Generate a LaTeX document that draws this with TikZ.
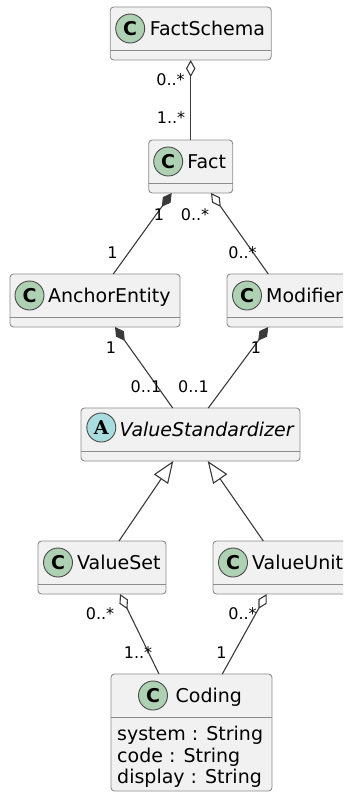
\documentclass[tikz,border=0pt]{standalone}
\usepackage{fontspec}
\setmainfont{DejaVu Sans}
\newfontfamily\serifA{DejaVu Serif}
\usetikzlibrary{arrows.meta,calc}
\definecolor{boxfill}{HTML}{F1F1F1}
\definecolor{boxline}{HTML}{8C8C8C}
\definecolor{badgeline}{HTML}{4A4A4A}
\definecolor{cfill}{HTML}{ADD1B2}
\definecolor{afill}{HTML}{A9DCDF}
\definecolor{edge}{HTML}{3A3A3A}
\tikzset{
 cls/.style={draw=boxline, fill=boxfill, rounded corners=3.5pt, line width=0.9pt, inner sep=0pt, outer sep=0pt, anchor=north west, minimum height=53pt},
 sepline/.style={draw=boxline, line width=0.9pt},
 badge/.style={circle, draw=badgeline, line width=0.9pt, minimum size=29pt, inner sep=0pt, font=\fontsize{19}{19}\selectfont\bfseries},
 cbadge/.style={badge, fill=cfill},
 abadge/.style={badge, fill=afill, font=\fontsize{19}{19}\selectfont\serifA\bfseries},
 ttl/.style={inner sep=0pt, anchor=base west, font=\fontsize{19}{22}\selectfont},
 attr/.style={inner sep=0pt, anchor=base west, font=\fontsize{19}{22}\selectfont},
 lbl/.style={inner sep=0pt, font=\fontsize{16}{16}\selectfont},
 conn/.style={draw=edge, line width=1.1pt},
 compo/.style={conn, {Diamond[length=17pt,width=9.5pt,fill=edge]}-},
 aggr/.style={conn, {Diamond[length=17pt,width=9.5pt,fill=white]}-},
 inh/.style={conn, -{Triangle[length=22pt,width=17pt,fill=white]}},
}
\begin{document}
\begin{tikzpicture}[x=1pt,y=-1pt]
\useasboundingbox (0,0) rectangle (343,792);
\begin{scope}
\clip (0,0) rectangle (343,792);
% boxes
\node[cls, minimum width=161pt] (fs) at (110.2,7) {};
\node[cls, minimum width=84pt] (fact) at (148.7,140) {};
\node[cls, minimum width=170pt] (ae) at (10,274) {};
\node[cls, minimum width=124pt] (mod) at (227,274) {};
\node[cls, minimum width=219pt] (vs) at (81,408) {};
\node[cls, minimum width=128pt] (vset) at (38,541) {};
\node[cls, minimum width=138pt] (vunit) at (213,541) {};
\node[cls, minimum width=161pt, minimum height=117pt] (coding) at (111,674) {};
% separators
\foreach \b in {fs,fact,ae,mod,vs,vset,vunit,coding}{
  \draw[sepline] ($(\b.north west)+(0,43)$) -- ($(\b.north east)+(0,43)$);
}
% badges and titles
\node[cbadge] (fsC) at ($(fs.north west)+(20,21.5)$) {C};
\node[ttl] (fsT) at ($(fs.north west)+(39.5,28.5)$) {FactSchema};
\node[cbadge] (factC) at ($(fact.north west)+(19.5,21.5)$) {C};
\node[ttl] (factT) at ($(fact.north west)+(38.5,28.5)$) {Fact};
\node[cbadge] (aeC) at ($(ae.north west)+(19.5,21.5)$) {C};
\node[ttl] (aeT) at ($(ae.north west)+(38,28.5)$) {AnchorEntity};
\node[cbadge] (modC) at ($(mod.north west)+(20,21.5)$) {C};
\node[ttl] (modT) at ($(mod.north west)+(39,28.5)$) {Modifier};
\node[abadge] (vsA) at ($(vs.north west)+(20.3,19.5)$) {A};
\node[ttl, font=\fontsize{19}{22}\selectfont\itshape] (vsT) at ($(vs.north west)+(38.5,28.5)$) {ValueStandardizer};
\node[cbadge] (vsetC) at ($(vset.north west)+(20,21.5)$) {C};
\node[ttl] (vsetT) at ($(vset.north west)+(39,28.5)$) {ValueSet};
\node[cbadge] (vunitC) at ($(vunit.north west)+(20,21.5)$) {C};
\node[ttl] (vunitT) at ($(vunit.north west)+(39,28.5)$) {ValueUnit};
\node[cbadge] (codingC) at ($(coding.north west)+(42,21.5)$) {C};
\node[ttl] (codingT) at ($(coding.north west)+(64.5,28.5)$) {Coding};
\node[attr] (a1) at ($(coding.north west)+(6,66)$) {system : String};
\node[attr] (a2) at ($(coding.north west)+(6,88)$) {code : String};
\node[attr] (a3) at ($(coding.north west)+(6,109.5)$) {display : String};
% connectors
\draw[aggr] (fs.south) -- (fact.north);
\draw[compo] ($(fact.south west)+(23,0)$) -- ($(ae.north west)+(103.3,0)$);
\draw[aggr] ($(fact.south west)+(62.3,0)$) -- ($(mod.north west)+(41.3,0)$);
\draw[compo] ($(ae.south west)+(105,0)$) -- ($(vs.north west)+(91.7,0)$);
\draw[compo] ($(mod.south west)+(41.3,0)$) -- ($(vs.north west)+(127.3,0)$);
\draw[inh] ($(vset.north west)+(81,0)$) -- ($(vs.south west)+(92.3,0)$);
\draw[inh] ($(vunit.north west)+(50.3,0)$) -- ($(vs.south west)+(126.7,0)$);
\draw[aggr] ($(vset.south west)+(82,0)$) -- ($(coding.north west)+(48,0)$);
\draw[aggr] ($(vunit.south west)+(53.7,0)$) -- ($(coding.north west)+(111.3,0)$);
% multiplicity labels
\node[lbl] (l1) at (170.5,80) {0..*};
\node[lbl] (l2) at (171,118) {1..*};
\node[lbl] (l3) at (159,215) {1};
\node[lbl] (l4) at (195,215) {0..*};
\node[lbl] (l5) at (112.5,253) {1};
\node[lbl] (l6) at (242.5,253) {0..*};
\node[lbl] (l7) at (111,348) {1};
\node[lbl] (l8) at (256,348) {1};
\node[lbl] (l9) at (146,387) {0..1};
\node[lbl] (l10) at (193.5,387) {0..1};
\node[lbl] (l11) at (100,614) {0..*};
\node[lbl] (l12) at (138,653) {1..*};
\node[lbl] (l13) at (242.5,614) {0..*};
\node[lbl] (l14) at (221.5,653) {1};
\end{scope}
\end{tikzpicture}
\end{document}
